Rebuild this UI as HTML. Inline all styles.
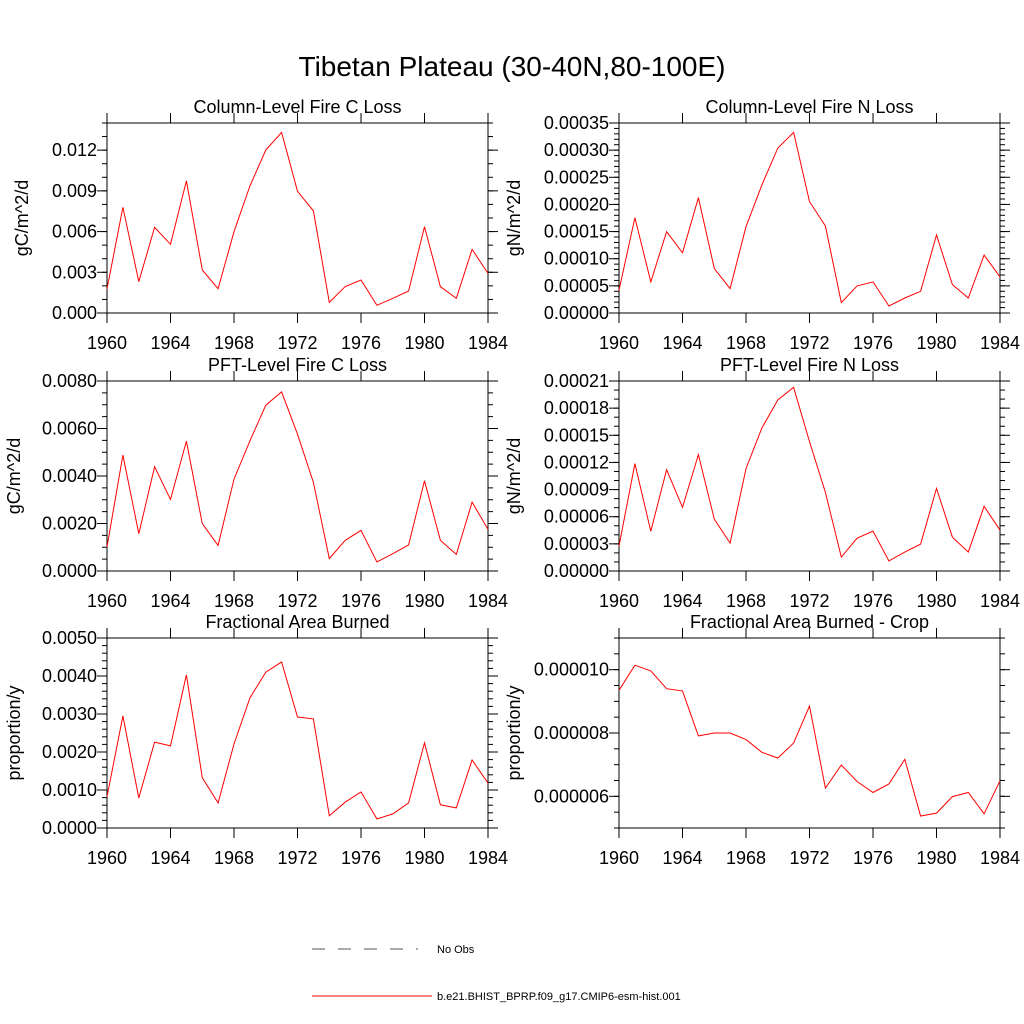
<!DOCTYPE html>
<html><head><meta charset="utf-8"><style>
html,body{margin:0;padding:0;background:#fff;}
svg{display:block;font-family:"Liberation Sans",sans-serif;}
</style></head><body>
<svg id="chart" width="1024" height="1024" viewBox="0 0 1024 1024" xmlns="http://www.w3.org/2000/svg">
<rect width="1024" height="1024" fill="#fff"/>
<text x="512" y="76" font-size="28" text-anchor="middle">Tibetan Plateau (30-40N,80-100E)</text>
<g id="panels"></g>
<g>
<line x1="312" y1="949" x2="418" y2="949" stroke="#555" stroke-width="1" stroke-dasharray="13,13"/>
<text x="437" y="953" font-size="11">No Obs</text>
<line x1="312" y1="996" x2="432" y2="996" stroke="#f00" stroke-width="1"/>
<text x="437" y="1000" font-size="11">b.e21.BHIST_BPRP.f09_g17.CMIP6-esm-hist.001</text>
</g>
</svg>
<script>
const years = [1960,1961,1962,1963,1964,1965,1966,1967,1968,1969,1970,1971,1972,1973,1974,1975,1976,1977,1978,1979,1980,1981,1982,1983,1984];
const xTicks = [1960,1964,1968,1972,1976,1980,1984];
const colFireC = [0.00177,0.00779,0.00231,0.00631,0.00506,0.00973,0.00317,0.00179,0.00599,0.00936,0.01201,0.01331,0.00897,0.00752,0.00079,0.00194,0.00243,0.00057,0.00108,0.00162,0.00636,0.00194,0.00108,0.00469,0.00292];
const colFireN = [0.0000419,0.0001756,0.0000573,0.0001497,0.0001109,0.0002126,0.000082,0.000045,0.000159,0.000236,0.0003038,0.0003327,0.0002052,0.0001602,0.0000191,0.0000499,0.0000573,0.0000129,0.0000277,0.00004,0.0001436,0.0000524,0.0000277,0.0001066,0.0000665];
const pftFireC = [0.00101,0.00488,0.00157,0.00439,0.00301,0.00547,0.00199,0.00108,0.00387,0.00548,0.00698,0.00754,0.00576,0.00373,0.00052,0.00129,0.00171,0.00038,0.00073,0.0011,0.0038,0.00129,0.0007,0.0029,0.00175];
const pftFireN = [0.0000275,0.0001187,0.000044,0.000112,0.0000704,0.0001286,0.0000572,0.0000308,0.0001132,0.000158,0.000189,0.000203,0.000143,0.0000869,0.0000154,0.0000363,0.000044,0.000011,0.0000209,0.0000297,0.0000913,0.0000374,0.0000209,0.0000715,0.0000451];
const fracBurned = [0.00082,0.00295,0.00079,0.00226,0.00216,0.00403,0.00132,0.00066,0.00221,0.00342,0.0041,0.00437,0.00292,0.00287,0.00032,0.00068,0.00095,0.00024,0.00037,0.00066,0.00224,0.00061,0.00053,0.00179,0.00118];
const fracBurnedCrop = [9.35e-6,10.14e-6,9.96e-6,9.40e-6,9.33e-6,7.91e-6,8.0e-6,8.0e-6,7.79e-6,7.39e-6,7.21e-6,7.68e-6,8.85e-6,6.26e-6,6.99e-6,6.47e-6,6.12e-6,6.39e-6,7.17e-6,5.38e-6,5.47e-6,5.99e-6,6.12e-6,5.45e-6,6.49e-6];
const ticksColC = ["0.000","0.003","0.006","0.009","0.012"];
const ticksColN = ["0.00000","0.00005","0.00010","0.00015","0.00020","0.00025","0.00030","0.00035"];
const ticksPftC = ["0.0000","0.0020","0.0040","0.0060","0.0080"];
const ticksPftN = ["0.00000","0.00003","0.00006","0.00009","0.00012","0.00015","0.00018","0.00021"];
const ticksFrac = ["0.0000","0.0010","0.0020","0.0030","0.0040","0.0050"];
const ticksCrop = ["0.000006","0.000008","0.000010"];

const NS="http://www.w3.org/2000/svg";
const root=document.getElementById('panels');
function mk(tag,attrs,parent){const e=document.createElementNS(NS,tag);for(const k in attrs)e.setAttribute(k,attrs[k]);(parent||root).appendChild(e);return e;}

const panels=[
 {key:'col-fire-c',title:'Column-Level Fire C Loss',ylab:'gC/m^2/d',x0:107,y0:123,ymin:0,ymax:0.014,data:colFireC,ticks:ticksColC,minor:0.001,tlx:97,ylx:22},
 {key:'col-fire-n',title:'Column-Level Fire N Loss',ylab:'gN/m^2/d',x0:619,y0:123,ymin:0,ymax:0.00035,data:colFireN,ticks:ticksColN,minor:0.00001,tlx:609,ylx:514},
 {key:'pft-fire-c',title:'PFT-Level Fire C Loss',ylab:'gC/m^2/d',x0:107,y0:381,ymin:0,ymax:0.008,data:pftFireC,ticks:ticksPftC,minor:0.0005,tlx:97,ylx:14},
 {key:'pft-fire-n',title:'PFT-Level Fire N Loss',ylab:'gN/m^2/d',x0:619,y0:381,ymin:0,ymax:0.00021,data:pftFireN,ticks:ticksPftN,minor:0.00001,tlx:609,ylx:514},
 {key:'frac-burned',title:'Fractional Area Burned',ylab:'proportion/y',x0:107,y0:638,ymin:0,ymax:0.005,data:fracBurned,ticks:ticksFrac,minor:0.0002,tlx:97,ylx:14},
 {key:'frac-burned-crop',title:'Fractional Area Burned - Crop',ylab:'proportion/y',x0:619,y0:638,ymin:5e-6,ymax:1.1e-5,data:fracBurnedCrop,ticks:ticksCrop,minor:5e-7,tlx:609,ylx:514}
];
const W=381,H=190;
panels.forEach(p=>{
 const g=mk('g',{});
 
 
 const xs=y=>p.x0+(y-1960)/(1984-1960)*W;
 const ys=v=>p.y0+H-(v-p.ymin)/(p.ymax-p.ymin)*H;
 const t=mk('text',{x:p.x0+W/2,y:p.y0-10,'font-size':18,'text-anchor':'middle'},g);t.textContent=p.title;
 
 
 const f=mk('rect',{x:p.x0,y:p.y0,width:W,height:H,fill:'none',stroke:'#000','stroke-width':1},g);
 
 
 // minor y ticks
 const n=Math.round((p.ymax-p.ymin)/p.minor);
 for(let i=0;i<=n;i++){const yy=ys(p.ymin+i*p.minor);
  mk('line',{x1:p.x0-5,x2:p.x0,y1:yy,y2:yy,stroke:'#000','stroke-width':1},g);
  mk('line',{x1:p.x0+W,x2:p.x0+W+5,y1:yy,y2:yy,stroke:'#000','stroke-width':1},g);}
 // major y ticks + labels
 p.ticks.forEach(s=>{const v=parseFloat(s),yy=ys(v);
  mk('line',{x1:p.x0-10,x2:p.x0,y1:yy,y2:yy,stroke:'#000','stroke-width':1},g);
  mk('line',{x1:p.x0+W,x2:p.x0+W+10,y1:yy,y2:yy,stroke:'#000','stroke-width':1},g);
  const l=mk('text',{x:p.tlx,y:yy+6,'font-size':18,'text-anchor':'end'},g);l.textContent=s;
  
  
 });
 // x ticks
 xTicks.forEach(yr=>{const xx=xs(yr);
  mk('line',{x1:xx,x2:xx,y1:p.y0+H,y2:p.y0+H+10,stroke:'#000','stroke-width':1},g);
  mk('line',{x1:xx,x2:xx,y1:p.y0-10,y2:p.y0,stroke:'#000','stroke-width':1},g);
  const l=mk('text',{x:xx,y:p.y0+H+36,'font-size':18,'text-anchor':'middle'},g);l.textContent=yr;
  
  
 });
 const cy=p.y0+H/2;
 const yl=mk('text',{x:p.ylx,y:cy,'font-size':18,'text-anchor':'middle',transform:`rotate(-90 ${p.ylx} ${cy})`,dy:6},g);yl.textContent=p.ylab;
 
 
 const pts=years.map((yr,i)=>xs(yr).toFixed(1)+','+ys(p.data[i]).toFixed(1)).join(' ');
 const pl=mk('polyline',{points:pts,fill:'none',stroke:'#f00','stroke-width':1},g);
 
 
});
</script>
</body></html>
